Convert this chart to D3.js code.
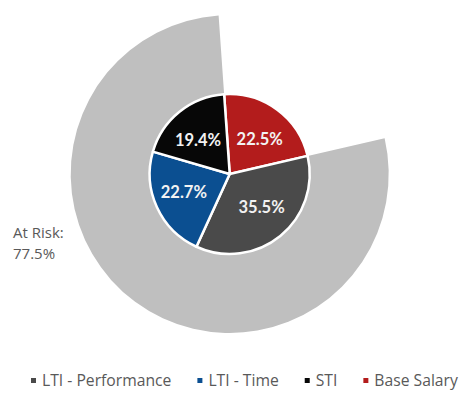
<!DOCTYPE html>
<html>
<head>
<meta charset="utf-8">
<script src="https://cdn.jsdelivr.net/npm/d3@7"></script>
<style>
  html, body { margin: 0; padding: 0; background: #ffffff; }
  svg { display: block; }
</style>
</head>
<body>
<svg id="chart" width="470" height="399"></svg>
<script>
// Pay mix: inner pie of components, outer ring for the at-risk share
const categories = ["Base Salary", "LTI - Performance", "LTI - Time", "STI"];
const values = [22.5, 35.5, 22.7, 19.4];
const colors = ["#B31C1C", "#4A4A4A", "#0B4F91", "#070707"];

const ringCategories = ["Fixed", "At Risk"];
const ringValues = [22.5, 77.5];
const ringLabel = ["At Risk:", "77.5%"];

const legendOrder = ["LTI - Performance", "LTI - Time", "STI", "Base Salary"];

const svg = d3.select("#chart");
const cx = 229.7, cy = 174;
const outerR = 159, pieR = 80;
const rot = -4 * Math.PI / 180;

const color = d3.scaleOrdinal().domain(categories).range(colors);

// Outer ring (only the at-risk slice is painted)
const ringPie = d3.pie().sort(null).value(d => d.v)
  .startAngle(rot).endAngle(rot + 2 * Math.PI);
const ringArcs = ringPie(ringCategories.map((c, i) => ({ c, v: ringValues[i] })));
const ringArc = d3.arc().innerRadius(0).outerRadius(outerR);

const g = svg.append("g").attr("transform", `translate(${cx},${cy})`);
g.selectAll("path.ring")
  .data(ringArcs.filter(d => d.data.c === "At Risk"))
  .join("path")
  .attr("class", "ring")
  .attr("d", ringArc)
  .attr("fill", "#BFBFBF");

// Inner pie
const pie = d3.pie().sort(null).value(d => d.v)
  .startAngle(rot).endAngle(rot + 2 * Math.PI);
const arcs = pie(categories.map((c, i) => ({ c, v: values[i] })));
const arc = d3.arc().innerRadius(0).outerRadius(pieR);

// label anchor: slightly flattened toward the horizontal midline
function labelPos(d) {
  const a = (d.startAngle + d.endAngle) / 2;
  return [Math.sin(a) * pieR * 0.63, -Math.cos(a) * pieR * 0.54];
}

g.selectAll("path.slice")
  .data(arcs)
  .join("path")
  .attr("class", "slice")
  .attr("d", arc)
  .attr("fill", d => color(d.data.c))
  .attr("stroke", "#ffffff")
  .attr("stroke-width", 2.5)
  .attr("stroke-linejoin", "round");

g.selectAll("text.val")
  .data(arcs)
  .join("text")
  .attr("class", "val")
  .attr("transform", d => `translate(${labelPos(d)})`)
  .attr("text-anchor", "middle")
  .attr("dy", "0.35em")
  .attr("font-family", "Lato, 'Open Sans', sans-serif")
  .attr("font-weight", "bold")
  .attr("font-size", 16.5)
  .attr("fill", "#F2F2F2")
  .text(d => d.data.v.toFixed(1) + "%");

// At-risk callout
const risk = svg.append("text")
  .attr("x", 13)
  .attr("y", 238)
  .attr("font-family", "'Open Sans', Lato, sans-serif")
  .attr("font-size", 15)
  .attr("fill", "#595959");
risk.selectAll("tspan")
  .data(ringLabel)
  .join("tspan")
  .attr("x", 13)
  .attr("dy", (d, i) => i === 0 ? 0 : 21)
  .text(d => d);

// Legend
const legend = svg.append("g").attr("transform", "translate(31,386)");
let lx = 0;
legendOrder.forEach(name => {
  const item = legend.append("g").attr("transform", `translate(${lx},0)`);
  item.append("rect")
    .attr("x", 0).attr("y", -8)
    .attr("width", 5).attr("height", 5)
    .attr("fill", color(name));
  const t = item.append("text")
    .attr("x", 11).attr("y", 0)
    .attr("font-family", "'Open Sans', Lato, sans-serif")
    .attr("font-size", 15.7)
    .attr("fill", "#595959")
    .text(name);
  lx += 11 + t.node().getComputedTextLength() + 26;
});
</script>
</body>
</html>
